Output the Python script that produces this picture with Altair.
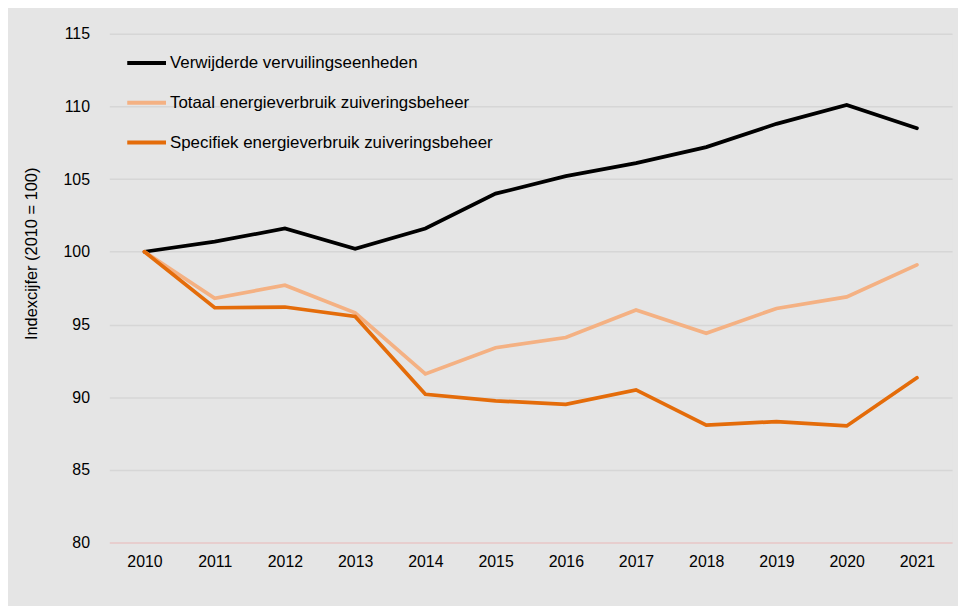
import altair as alt
import pandas as pd

years = [str(y) for y in range(2010, 2022)]
series_names = [
    "Verwijderde vervuilingseenheden",
    "Totaal energieverbruik zuiveringsbeheer",
    "Specifiek energieverbruik zuiveringsbeheer",
]
verwijderd = [100.0, 100.7, 101.6, 100.2, 101.6, 104.0, 105.2, 106.1, 107.2, 108.8, 110.1, 108.5]
totaal = [100.0, 96.8, 97.7, 95.8, 91.6, 93.4, 94.1, 96.0, 94.4, 96.1, 96.9, 99.1]
specifiek = [100.0, 96.15, 96.2, 95.55, 90.2, 89.75, 89.5, 90.5, 88.07, 88.32, 88.02, 91.33]
colors = ["#000000", "#F4B183", "#E46C0A"]

rows = []
for name, vals in zip(series_names, [verwijderd, totaal, specifiek]):
    for yr, v in zip(years, vals):
        rows.append({"jaar": yr, "serie": name, "waarde": v, "volgorde": series_names.index(name)})
df = pd.DataFrame(rows)

chart = (
    alt.Chart(df)
    .mark_line(strokeWidth=3.75, strokeCap="round", strokeJoin="miter")
    .encode(
        x=alt.X(
            "jaar:O",
            sort=years,
            scale=alt.Scale(type="point", padding=0.5),
            axis=alt.Axis(
                title=None,
                labelAngle=0,
                grid=False,
                ticks=False,
                tickSize=0,
                domain=True,
                domainColor="#EBCACA",
                domainWidth=1.5,
                labelPadding=11,
                labelFontSize=16,
                labelColor="#000000",
                labelFont="Liberation Sans",
            ),
        ),
        y=alt.Y(
            "waarde:Q",
            scale=alt.Scale(domain=[80, 115], nice=False, zero=False),
            axis=alt.Axis(
                title="Indexcijfer (2010 = 100)",
                values=[80, 85, 90, 95, 100, 105, 110, 115],
                grid=True,
                gridColor="#D6D6D6",
                gridWidth=1.5,
                ticks=False,
                tickSize=0,
                domain=False,
                labelPadding=20,
                labelFontSize=16,
                labelColor="#000000",
                labelFont="Liberation Sans",
                titleFont="Liberation Sans",
                titleFontSize=16.5,
                titleFontWeight="normal",
                titleColor="#000000",
                titleX=-78,
                titleY=221,
                titleAngle=-90,
                titleAlign="center",
                titleBaseline="middle",
            ),
        ),
        color=alt.Color(
            "serie:N",
            sort=series_names,
            scale=alt.Scale(domain=series_names, range=colors),
            legend=alt.Legend(
                title=None,
                orient="none",
                legendX=16,
                legendY=8,
                padding=0,
                symbolType="stroke",
                symbolSize=1521,
                symbolStrokeWidth=4,
                rowPadding=10,
                labelOffset=2,
                labelFontSize=17,
                labelFont="Liberation Sans",
                labelColor="#000000",
                labelLimit=0,
            ),
        ),
        order=alt.Order("volgorde:Q"),
        detail="serie:N",
    )
    .properties(
        width=848,
        height=512,
        background="#E5E5E5",
        padding={"left": 102, "top": 24, "right": 6, "bottom": 62},
        autosize=alt.AutoSizeParams(type="none"),
    )
    .configure_view(stroke=None, fill="#E5E5E5")
)

chart.save("out.html", embed_options={"renderer": "svg", "actions": False})
